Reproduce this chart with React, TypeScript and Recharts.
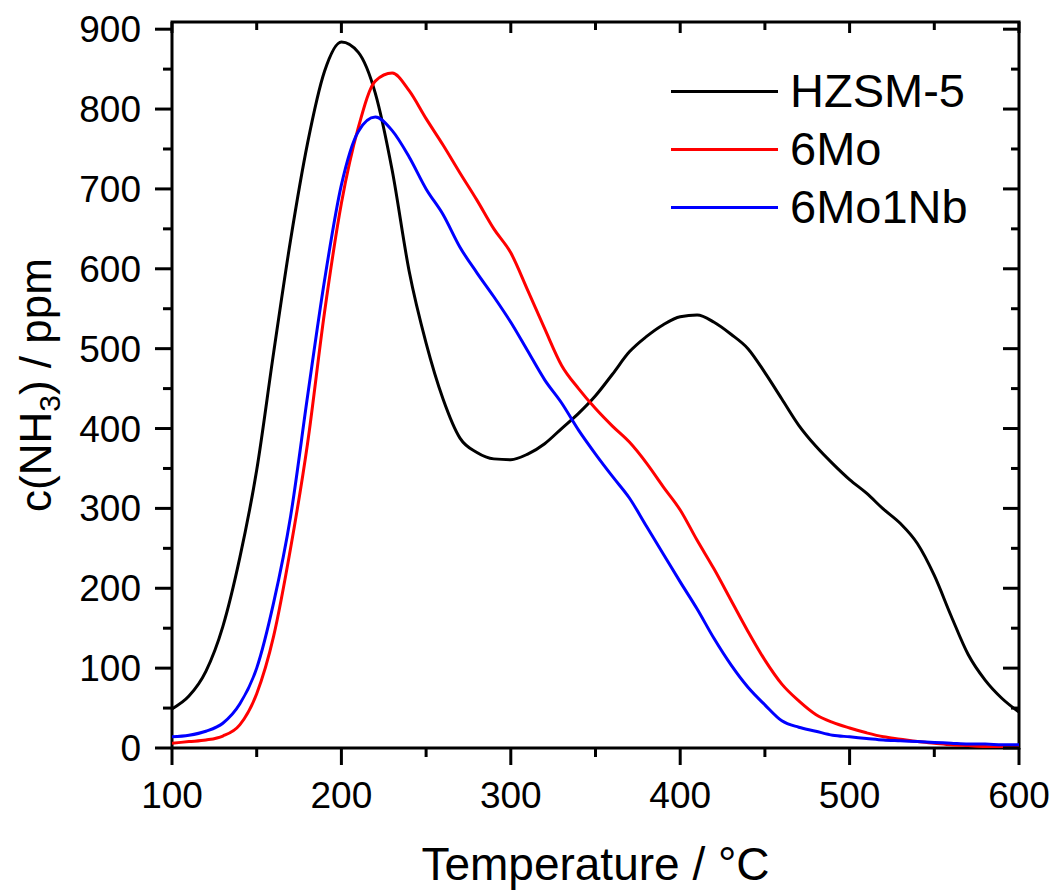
import React from 'react';
import { LineChart, Line, XAxis, YAxis, ReferenceArea, Legend } from 'recharts';

// temperature grid, °C
const temps = [
  100, 110, 120, 130, 140, 150, 160, 170, 180, 190,
  200, 210, 220, 230, 240, 250, 260, 270, 280, 290,
  300, 310, 320, 330, 340, 350, 360, 370, 380, 390,
  400, 410, 420, 430, 440, 450, 460, 470, 480, 490,
  500, 510, 520, 530, 540, 550, 560, 570, 580, 590, 600,
];

// NH3 concentration, ppm
const hzsm5 = [
  49, 65, 96, 152, 238, 348, 495, 636, 757, 847,
  884, 871, 820, 723, 597, 507, 437, 388, 370, 362,
  361, 368, 381, 400, 419, 441, 468, 496, 515, 530,
  540, 542, 533, 518, 500, 470, 437, 404, 378, 356,
  336, 319, 299, 281, 256, 216, 165, 117, 85, 62, 45,
];
const mo6 = [
  6, 8, 10, 15, 29, 68, 140, 250, 381, 545,
  682, 777, 835, 845, 823, 788, 755, 720, 686, 650,
  620, 573, 525, 479, 450, 425, 403, 383, 357, 327,
  298, 260, 224, 185, 146, 110, 80, 59, 42, 32,
  25, 19, 14, 11, 8, 6, 4, 3, 2, 1.5, 1,
];
const mo6nb1 = [
  14, 16, 21, 31, 55, 100, 182, 290, 440, 585,
  705, 772, 790, 773, 740, 700, 668, 627, 595, 565,
  533, 497, 461, 432, 398, 368, 340, 313, 278, 243,
  208, 174, 137, 104, 76, 54, 34, 26, 21, 16,
  14, 12, 10, 9, 8, 7, 6, 5, 5, 4, 4,
];

const xTicks = [100, 150, 200, 250, 300, 350, 400, 450, 500, 550, 600];
const yTicks = [0, 50, 100, 150, 200, 250, 300, 350, 400, 450, 500, 550, 600, 650, 700, 750, 800, 850, 900];

const series = [
  { key: 'hzsm5', name: 'HZSM-5', color: '#000000' },
  { key: 'mo6', name: '6Mo', color: '#ff0000' },
  { key: 'mo6nb1', name: '6Mo1Nb', color: '#0000ff' },
];

const data = temps.map((t, i) => ({ t, hzsm5: hzsm5[i], mo6: mo6[i], mo6nb1: mo6nb1[i] }));

const W = 1056;
const H = 891;
const PLOT_LEFT = 172;
const PLOT_RIGHT = 1019;
const PLOT_TOP = 22;
const PLOT_BOTTOM = 748;
const Y_MAX = 909;
const FONT = '"Liberation Sans", Arial, sans-serif';

const XTick = (props: any) => {
  const { x, payload } = props;
  const v = payload.value;
  const major = v % 100 === 0;
  return (
    <g>
      <line x1={x} x2={x} y1={PLOT_BOTTOM} y2={PLOT_BOTTOM + (major ? 17 : 9)} stroke="#000" strokeWidth={3} />
      <line x1={x} x2={x} y1={PLOT_TOP} y2={PLOT_TOP + (major ? 11 : 8)} stroke="#000" strokeWidth={3} />
      {major && (
        <text x={x} y={808} textAnchor="middle" fontSize={37} fontFamily={FONT} fill="#000">
          {v}
        </text>
      )}
    </g>
  );
};

const YTick = (props: any) => {
  const { y, payload } = props;
  const v = payload.value;
  const major = v % 100 === 0;
  return (
    <g>
      <line x1={PLOT_LEFT - (major ? 17 : 9)} x2={PLOT_LEFT} y1={y} y2={y} stroke="#000" strokeWidth={3} />
      <line x1={PLOT_RIGHT - (major ? 16 : 8)} x2={PLOT_RIGHT} y1={y} y2={y} stroke="#000" strokeWidth={3} />
      {major && (
        <text x={141} y={y + 13} textAnchor="end" fontSize={37} fontFamily={FONT} fill="#000">
          {v}
        </text>
      )}
    </g>
  );
};

const LegendBox = () => (
  <div style={{ fontFamily: FONT, fontSize: 47, color: '#000' }}>
    {series.map((s) => (
      <div key={s.key} style={{ display: 'flex', alignItems: 'center', height: 58 }}>
        <div style={{ width: 107, height: 3, background: s.color, marginRight: 12 }} />
        <span style={{ lineHeight: '58px' }}>{s.name}</span>
      </div>
    ))}
  </div>
);

export default function App() {
  return (
    <div style={{ position: 'absolute', left: 0, top: 0, width: W, height: H, background: '#fff' }}>
      <LineChart width={W} height={H} data={data} margin={{ top: PLOT_TOP, right: W - PLOT_RIGHT, left: 0, bottom: 0 }}>
        <XAxis
          dataKey="t"
          type="number"
          domain={[100, 600]}
          ticks={xTicks}
          interval={0}
          height={H - PLOT_BOTTOM}
          axisLine={false}
          tickLine={false}
          tick={<XTick />}
          allowDataOverflow
          label={{
            content: () => (
              <text x={(PLOT_LEFT + PLOT_RIGHT) / 2} y={880} textAnchor="middle" fontSize={46} fontFamily={FONT} fill="#000">
                Temperature / °C
              </text>
            ),
          }}
        />
        <YAxis
          type="number"
          domain={[0, Y_MAX]}
          ticks={yTicks}
          interval={0}
          width={PLOT_LEFT}
          axisLine={false}
          tickLine={false}
          tick={<YTick />}
          allowDataOverflow
          label={{
            content: () => (
              <text transform={`translate(51, ${(PLOT_TOP + PLOT_BOTTOM) / 2}) rotate(-90)`} textAnchor="middle" fontSize={44} fontFamily={FONT} fill="#000">
                c(NH<tspan fontSize={30} dy={9}>3</tspan><tspan dy={-9}>) / ppm</tspan>
              </text>
            ),
          }}
        />
        <ReferenceArea x1={100} x2={600} y1={0} y2={Y_MAX} fill="none" stroke="#000" strokeWidth={3} ifOverflow="visible" />
        {series.map((s) => (
          <Line
            key={s.key}
            type="monotone"
            dataKey={s.key}
            name={s.name}
            stroke={s.color}
            strokeWidth={3}
            dot={false}
            activeDot={false}
            isAnimationActive={false}
          />
        ))}
        <Legend
          layout="horizontal"
          verticalAlign="middle"
          align="center"
          wrapperStyle={{ left: 671, top: 62, width: 'auto', height: 'auto' }}
          content={() => <LegendBox />}
        />
      </LineChart>
    </div>
  );
}
